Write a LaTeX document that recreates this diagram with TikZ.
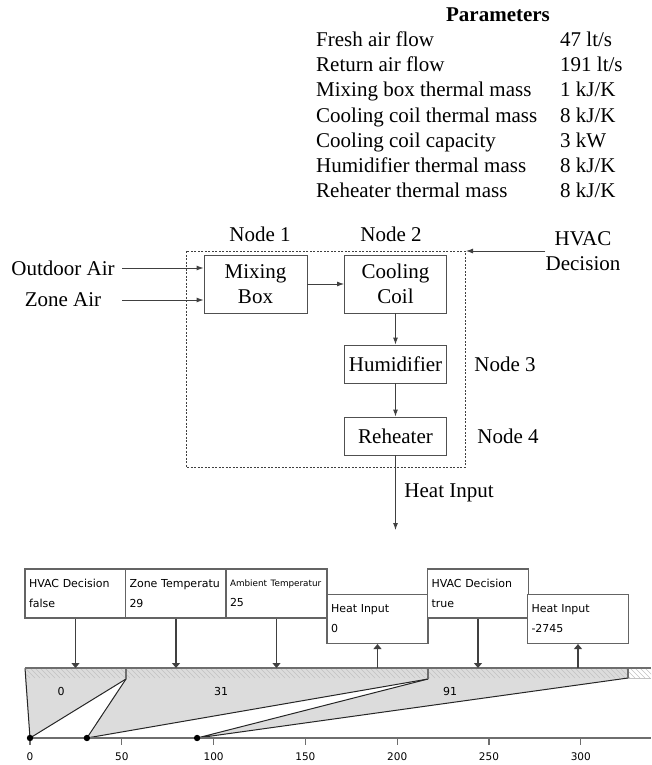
\documentclass[tikz,border=0pt]{standalone}
\usepackage{fontspec}
\setmainfont{Liberation Serif}
\newfontfamily\tlfont{DejaVu Sans}
\usetikzlibrary{arrows.meta,positioning}

\definecolor{lnGray}{HTML}{404040}
\definecolor{boxGray}{HTML}{505050}
\definecolor{barFill}{HTML}{DCDCDC}
\definecolor{hatchGray}{HTML}{C2C2C2}
\definecolor{barEdge}{HTML}{6E6E6E}
\definecolor{evEdge}{HTML}{646464}

\tikzset{
  lbl/.style={inner sep=0pt},
  blk/.style={draw=boxGray, line width=0.9pt, inner sep=0pt, align=center},
  arr/.style={-{Latex[length=7pt,width=5pt]}, draw=lnGray, line width=0.9pt},
  evbox/.style={draw=evEdge, line width=1.1pt, fill=white, text width=93pt,
    inner xsep=4pt, inner ysep=0pt, minimum height=49pt, align=left,
    font=\tlfont\fontsize{11}{20}\selectfont},
  tlarr/.style={-{Triangle[length=5pt,width=8pt]}, draw=lnGray, line width=1.1pt},
  segln/.style={draw=black!85, line width=1pt},
  tllbl/.style={inner sep=0pt, font=\tlfont\fontsize{11}{12}\selectfont},
}

\begin{document}
\begin{tikzpicture}[x=1pt, y=-1pt, every node/.style={font=\fontsize{21}{25}\selectfont}]
  \useasboundingbox (0,0) rectangle (651,765);

  % ---- Parameter table ----
  \node[lbl, anchor=base, font=\fontsize{21}{25}\selectfont\bfseries] (partitle) at (498,22) {Parameters};
  \foreach \pname/\pval [count=\i] in {{Fresh air flow}/{47 lt/s}, {Return air flow}/{191 lt/s},
      {Mixing box thermal mass}/{1 kJ/K}, {Cooling coil thermal mass}/{8 kJ/K},
      {Cooling coil capacity}/{3 kW}, {Humidifier thermal mass}/{8 kJ/K},
      {Reheater thermal mass}/{8 kJ/K}} {
    \node[lbl, anchor=base west] (pn\i) at (316,{22+25*\i}) {\pname};
    \node[lbl, anchor=base west] (pv\i) at (560,{22+25*\i}) {\pval};
  }

  % ---- HVAC nodes ----
  \draw[lnGray, line width=0.7pt, dash pattern=on 2pt off 1.5pt] (186,251) rectangle (465,467);
  \coordinate (frameTR) at (466,251);
  \node[blk, minimum width=103pt, minimum height=58pt] (mix) at (255.5,284) {Mixing\\Box};
  \node[blk, minimum width=102pt, minimum height=58pt] (coil) at (395.5,284) {Cooling\\Coil};
  \node[blk, minimum width=102pt, minimum height=38pt] (hum) at (395.5,364) {Humidifier};
  \node[blk, minimum width=102pt, minimum height=38pt] (reh) at (395.5,436) {Reheater};
  \node[lbl] (n1) at (260,234) {Node 1};
  \node[lbl] (n2) at (391,234) {Node 2};
  \node[lbl] (n3) at (505,364) {Node 3};
  \node[lbl] (n4) at (508,436) {Node 4};

  \node[lbl] (oa) at (63,268) {Outdoor Air};
  \node[lbl] (za) at (63,300) {Zone Air};
  \node[lbl, align=center] (hvac) at (583,251) {HVAC\\Decision};
  \coordinate (inx) at (122,0);
  \coordinate (hout) at (395.5,530);

  \draw[arr] (oa -| inx) -- (oa -| mix.west);
  \draw[arr] (za -| inx) -- (za -| mix.west);
  \draw[arr] (hvac.west |- frameTR) -- (frameTR);
  \draw[arr] (mix.east) -- (coil.west);
  \draw[arr] (coil.south) -- (hum.north);
  \draw[arr] (hum.south) -- (reh.north);
  \draw[arr] (reh.south) -- (hout) node[lbl, midway, anchor=west, xshift=8.5pt] (hin) {Heat Input};

  % ---- Timeline: bar and segments ----
  \coordinate (bartop) at (0,668);
  \coordinate (s0) at (25,679);
  \coordinate (s1) at (126,679);
  \coordinate (s2) at (428,679);
  \coordinate (s3) at (628,678);
  \coordinate (d0) at (30,738);
  \coordinate (d31) at (86.9,738);
  \coordinate (d91) at (197.1,738);

  \fill[barFill] (s0) -- (s1) -- (d0) -- cycle;
  \fill[barFill] (s1) -- (s2) -- (d31) -- cycle;
  \fill[barFill] (s2) -- (s3) -- (d91) -- cycle;
  \fill[barFill] (25,668) rectangle (628,679);
  \begin{scope}
    \clip (25,668) rectangle (651,678);
    \foreach \h in {15,20,...,650} {
      \draw[hatchGray, line width=0.6pt] (\h,668) -- ++(10,10);
    }
  \end{scope}
  \draw[hatchGray, line width=0.6pt] (628,678) -- (651,678);
  \draw[segln] (25,668) -- (d0) -- (s1);
  \draw[segln] (s1) -- (d31) -- (s2);
  \draw[segln] (s2) -- (d91) -- (s3);
  \draw[barEdge, line width=1.1pt] (126,668) -- (s1);
  \draw[barEdge, line width=1.1pt] (428,668) -- (s2);
  \draw[barEdge, line width=1.1pt] (628,668) -- (s3);
  \draw[barEdge, line width=1.6pt] (25,668) -- (651,668);

  \node[tllbl] (v0) at (61,691) {0};
  \node[tllbl] (v31) at (221,691) {31};
  \node[tllbl] (v91) at (450,691) {91};

  % ---- Axis ----
  \draw[barEdge, line width=1.2pt] (d0) -- (651,738);
  \foreach \t in {0,50,...,300} {
    \draw[barEdge, line width=1.2pt] ({30+1.836*\t},738) -- ++(0,7);
    \node[tllbl, font=\tlfont\fontsize{10.5}{12}\selectfont] (t\t) at ({30+1.836*\t},757) {\t};
  }
  \foreach \d in {d0,d31,d91} {
    \fill[black] (\d) circle (3.2pt);
  }

  % ---- Events ----
  \node[evbox] (ev1) at (75.5,593.5) {HVAC Decision\\false};
  \node[evbox] (ev2) at (176,593.5) {Zone Temperatu\\29};
  \node[evbox] (ev3) at (276.5,593.5) {{\fontsize{8.8}{20}\selectfont Ambient Temperatur}\\25};
  \node[evbox] (ev4) at (377.5,619) {Heat Input\\0};
  \node[evbox] (ev5) at (478,593.5) {HVAC Decision\\true};
  \node[evbox] (ev6) at (578,619) {Heat Input\\-2745};

  \draw[tlarr] (ev1.south) -- (ev1.south |- bartop);
  \draw[tlarr] (ev2.south) -- (ev2.south |- bartop);
  \draw[tlarr] (ev3.south) -- (ev3.south |- bartop);
  \draw[tlarr] (ev4.south |- bartop) -- (ev4.south);
  \draw[tlarr] (ev5.south) -- (ev5.south |- bartop);
  \draw[tlarr] (ev6.south |- bartop) -- (ev6.south);
\end{tikzpicture}
\end{document}
